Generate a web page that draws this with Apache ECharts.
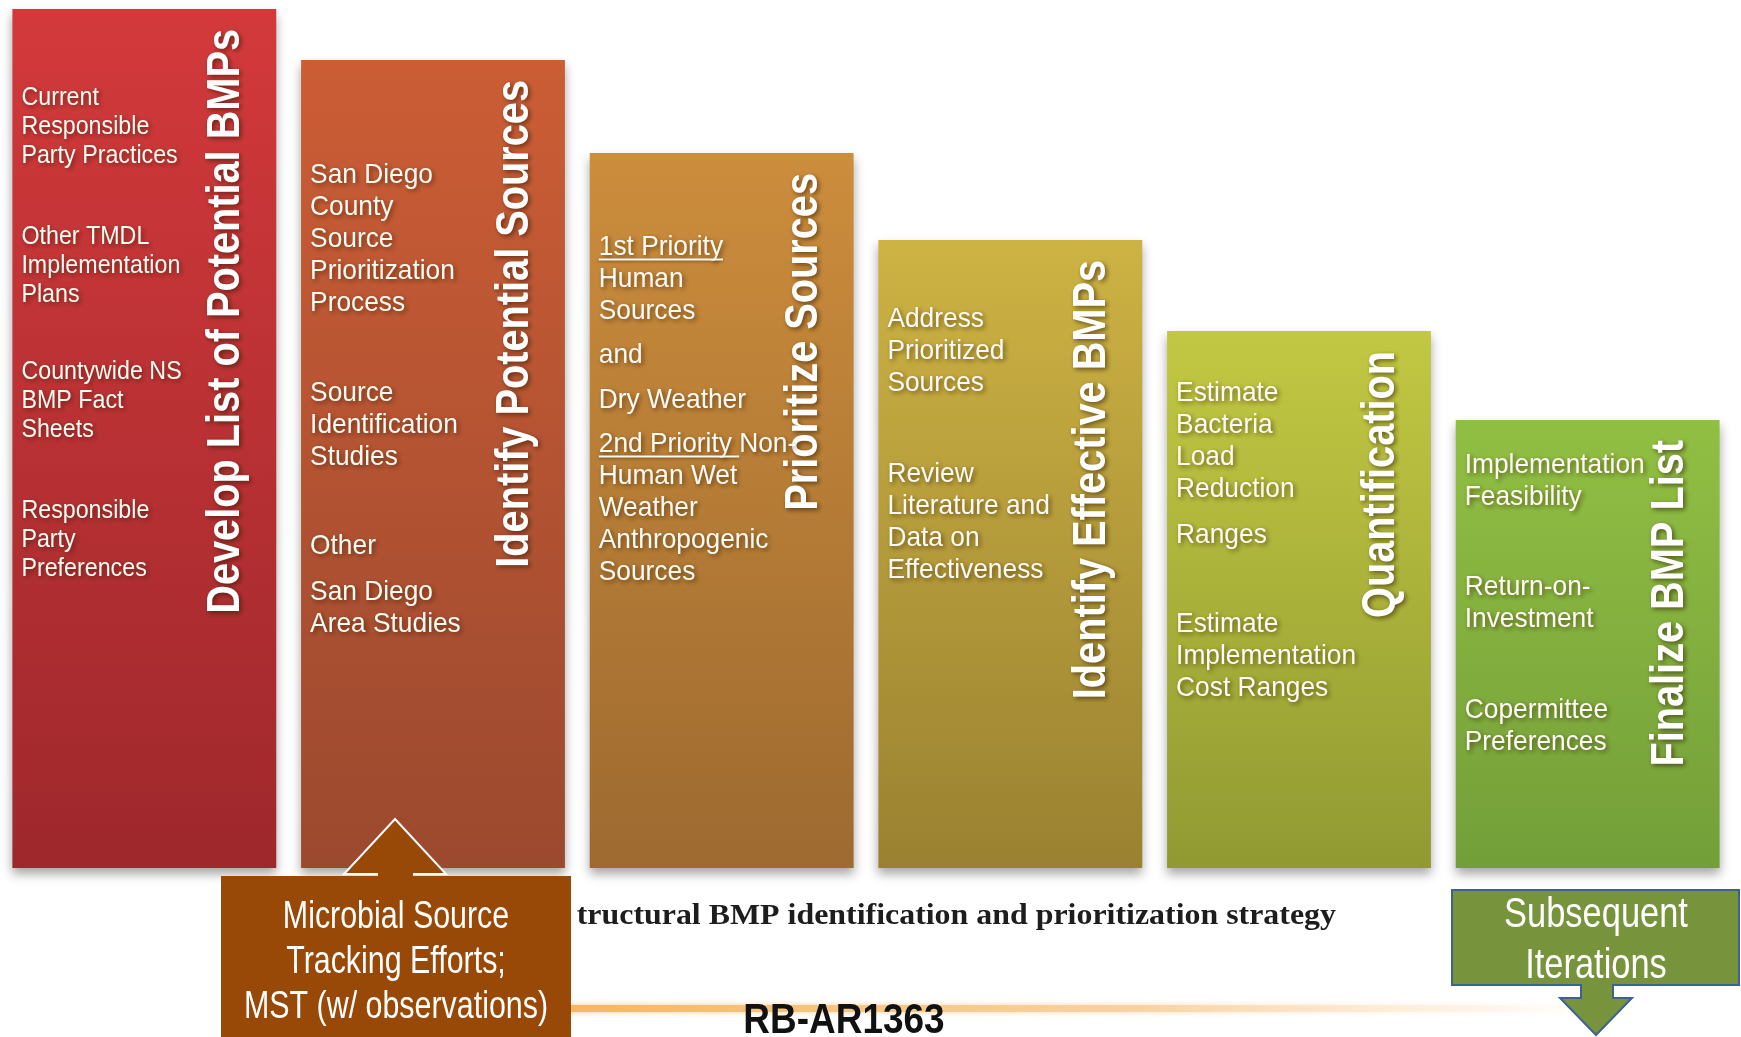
<!DOCTYPE html>
<html>
<head>
<meta charset="utf-8">
<script src="https://cdn.jsdelivr.net/npm/echarts@6/dist/echarts.min.js"></script>
<style>
  html, body { margin: 0; padding: 0; background: #fff; }
  #chart { width: 1741px; height: 1037px; }
</style>
</head>
<body>
<div id="chart"></div>
<script>
// steps of the BMP strategy, left to right
const stepTitles = ['Develop List of Potential BMPs', 'Identify Potential Sources', 'Prioritize Sources',
  'Identify Effective BMPs', 'Quantification', 'Finalize BMP List'];
const stepHeights = [859, 808, 715, 628, 537, 448];
const stepNotes = [
  [['Current', 'Responsible', 'Party Practices'], ['Other TMDL', 'Implementation', 'Plans'],
   ['Countywide NS', 'BMP Fact', 'Sheets'], ['Responsible', 'Party', 'Preferences']],
  [['San Diego', 'County', 'Source', 'Prioritization', 'Process'], ['Source', 'Identification', 'Studies'],
   ['Other'], ['San Diego', 'Area Studies']],
  [['1st Priority', 'Human', 'Sources'], ['and'], ['Dry Weather'],
   ['2nd Priority Non-', 'Human Wet', 'Weather', 'Anthropogenic', 'Sources']],
  [['Address', 'Prioritized', 'Sources'], ['Review', 'Literature and', 'Data on', 'Effectiveness']],
  [['Estimate', 'Bacteria', 'Load', 'Reduction'], ['Ranges'], ['Estimate', 'Implementation', 'Cost Ranges']],
  [['Implementation', 'Feasibility'], ['Return-on-', 'Investment'], ['Copermittee', 'Preferences']]
];
const underlined = ['1st Priority', '2nd Priority '];
const captionText = 'tructural BMP identification and prioritization strategy';
const pageLabel = 'RB-AR1363';
const mstLines = ['Microbial Source', 'Tracking Efforts;', 'MST (w/ observations)'];
const iterLines = ['Subsequent', 'Iterations'];

// layout / styling
const stepColors = [
  ['#D3393B', '#9E282C'], ['#CC5D35', '#9B492F'], ['#CC8D3C', '#9E6A30'],
  ['#CDB343', '#9A8131'], ['#C2C842', '#919A32'], ['#91BF43', '#739F39']
];
const noteOffsets = [[89, 228, 363, 502], [115, 333, 486, 532], [94, 202, 247, 291],
  [79, 234], [62, 204, 293], [45, 167, 290]];
const SANS = '"Liberation Sans", Arial, sans-serif';
const SERIF = '"Liberation Serif", "Times New Roman", serif';
const BAR_RATIO = 0.914;
const textShadow = {
  textShadowColor: 'rgba(40,20,0,0.6)', textShadowBlur: 5,
  textShadowOffsetX: 2, textShadowOffsetY: 2
};

const measureCtx = document.createElement('canvas').getContext('2d');
function textWidth(text, size, weight) {
  measureCtx.font = (weight || 'normal') + ' ' + size + 'px ' + SANS;
  return measureCtx.measureText(text).width;
}

const chart = echarts.init(document.getElementById('chart'));

function renderNotes(params, api) {
  const i = params.dataIndex;
  const topPt = api.coord([api.value(0), api.value(1)]);
  const band = api.size([1, 0])[0];
  const barW = band * BAR_RATIO;
  const left = topPt[0] - barW / 2;
  const right = topPt[0] + barW / 2;
  const top = topPt[1];
  const fs = i === 0 ? 25 : 28;
  const sx = i === 0 ? 0.93 : 0.94;
  const lh = i === 0 ? 29 : 32;
  const children = [];

  // rotated step title
  children.push({
    type: 'text',
    x: right - 50,
    y: top + 20,
    rotation: Math.PI / 2,
    scaleX: 0.845,
    style: Object.assign({
      text: stepTitles[i],
      fill: '#ffffff',
      fontSize: 47,
      fontWeight: 'bold',
      fontFamily: SANS,
      align: 'right', textAlign: 'right',
      verticalAlign: 'middle', textVerticalAlign: 'middle'
    }, textShadow)
  });

  stepNotes[i].forEach(function (group, g) {
    const y0 = top + noteOffsets[i][g];
    children.push({
      type: 'text',
      x: left + 9,
      y: y0 - lh / 2,
      scaleX: sx,
      style: Object.assign({
        text: group.join('\n'),
        fill: '#fffaf2',
        fontSize: fs,
        fontFamily: SANS,
        lineHeight: lh,
        align: 'left', textAlign: 'left',
        verticalAlign: 'top', textVerticalAlign: 'top'
      }, textShadow)
    });
    group.forEach(function (line, k) {
      underlined.forEach(function (u) {
        if (line.indexOf(u.trim()) === 0) {
          const w = textWidth(u, fs) * sx;
          const yl = y0 + k * lh + fs * 0.45;
          children.push({
            type: 'line',
            shape: { x1: left + 9, y1: yl, x2: left + 9 + w, y2: yl },
            style: { stroke: '#fffaf2', lineWidth: 2, shadowColor: 'rgba(40,20,0,0.5)', shadowBlur: 3, shadowOffsetY: 1 }
          });
        }
      });
    });
  });
  return { type: 'group', children: children };
}

const option = {
  animation: false,
  grid: { left: 0, right: 9, top: 0, bottom: 169 },
  xAxis: { type: 'category', data: stepTitles, show: false },
  yAxis: { type: 'value', min: 0, max: 868, show: false },
  series: [
    {
      type: 'bar',
      barWidth: (BAR_RATIO * 100) + '%',
      silent: true,
      data: stepHeights.map(function (h, i) {
        return {
          value: h,
          itemStyle: {
            color: new echarts.graphic.LinearGradient(0, 0, 0, 1, [
              { offset: 0, color: stepColors[i][0] },
              { offset: 1, color: stepColors[i][1] }
            ]),
            shadowColor: 'rgba(0,0,0,0.35)',
            shadowBlur: 10,
            shadowOffsetY: 6
          }
        };
      })
    },
    {
      type: 'custom',
      silent: true,
      z: 5,
      renderItem: renderNotes,
      data: stepHeights.map(function (h, i) { return [i, h]; })
    }
  ],
  graphic: [
    {
      type: 'text', z: 50, x: 1336, y: 917, scaleX: 1.1, silent: true,
      style: {
        text: captionText, fill: '#1d1d1d', fontSize: 29, fontWeight: 'bold', fontFamily: SERIF,
        align: 'right', textAlign: 'right', verticalAlign: 'middle', textVerticalAlign: 'middle'
      }
    },
    {
      type: 'rect', z: 50, silent: true,
      shape: { x: 560, y: 1005, width: 1040, height: 7 },
      style: {
        fill: new echarts.graphic.LinearGradient(0, 0, 1, 0, [
          { offset: 0, color: 'rgba(246,182,100,1)' },
          { offset: 0.55, color: 'rgba(248,200,140,0.7)' },
          { offset: 1, color: 'rgba(255,235,210,0)' }
        ]),
        shadowColor: 'rgba(246,190,120,0.8)', shadowBlur: 6
      }
    },
    {
      type: 'text', z: 60, x: 844, y: 1021, scaleX: 0.88, silent: true,
      style: {
        text: pageLabel, fill: '#111', fontSize: 42, fontWeight: 'bold', fontFamily: SANS,
        align: 'center', textAlign: 'center', verticalAlign: 'middle', textVerticalAlign: 'middle'
      }
    },
    {
      type: 'rect', z: 70, silent: true,
      shape: { x: 221, y: 876, width: 350, height: 161 },
      style: { fill: '#984807' }
    },
    {
      type: 'polygon', z: 71, silent: true,
      shape: { points: [[378, 878], [378, 874], [344, 874], [395, 819], [446, 874], [413, 874], [413, 878]] },
      style: { fill: '#984807' }
    },
    {
      type: 'polyline', z: 72, silent: true,
      shape: { points: [[378, 874], [344, 874], [395, 819], [446, 874], [413, 874]] },
      style: { stroke: '#ffffff', lineWidth: 2, fill: null }
    },
    {
      type: 'text', z: 73, x: 396, y: 963, scaleX: 0.8, silent: true,
      style: {
        text: mstLines.join('\n'), fill: '#ffffff', fontSize: 38, fontFamily: SANS, lineHeight: 45,
        align: 'center', textAlign: 'center', verticalAlign: 'middle', textVerticalAlign: 'middle'
      }
    },
    {
      type: 'polygon', z: 70, silent: true,
      shape: { points: [[1452, 890], [1739, 890], [1739, 985], [1613, 985], [1613, 998], [1632, 998],
        [1596, 1035], [1560, 998], [1581, 998], [1581, 985], [1452, 985]] },
      style: { fill: '#77933C', stroke: '#3E6193', lineWidth: 2 }
    },
    {
      type: 'text', z: 73, x: 1596, y: 941, scaleX: 0.82, silent: true,
      style: {
        text: iterLines.join('\n'), fill: '#ffffff', fontSize: 42, fontFamily: SANS, lineHeight: 51,
        align: 'center', textAlign: 'center', verticalAlign: 'middle', textVerticalAlign: 'middle'
      }
    }
  ]
};

chart.setOption(option);
</script>
</body>
</html>
